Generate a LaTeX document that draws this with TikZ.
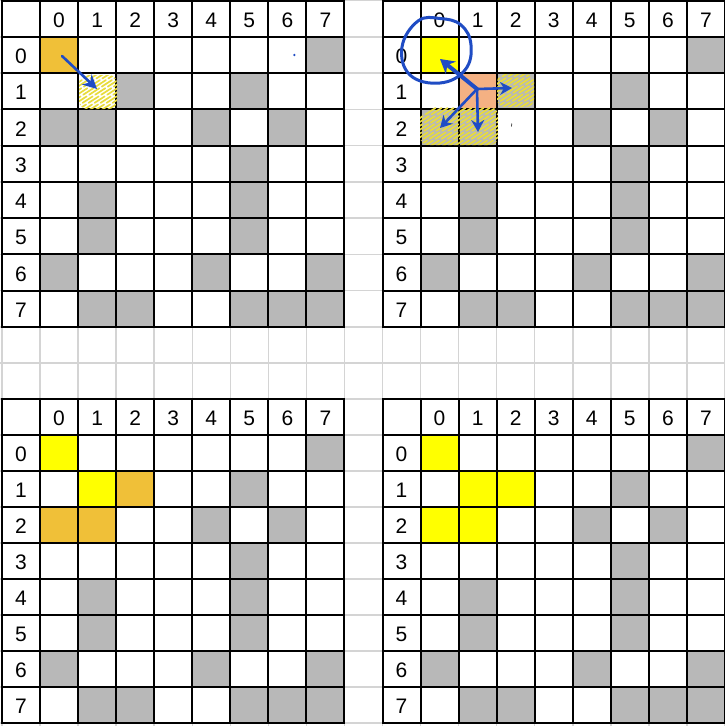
\documentclass[tikz,border=0pt]{standalone}
\usepackage{fontspec}
\setmainfont{Liberation Sans}
\usetikzlibrary{arrows.meta}
\definecolor{cellgrey}{HTML}{B8B8B8}
\definecolor{cellorange}{HTML}{F0C038}
\definecolor{cellyellow}{HTML}{FFFF00}
\definecolor{cellsalmon}{HTML}{F4B183}
\definecolor{ink}{HTML}{1F4CC4}
\definecolor{hatch}{HTML}{E8DC3C}
\definecolor{sheet}{HTML}{D4D4D4}
\tikzset{
  gridline/.style={black, line width=2pt, line cap=rect},
  sheetline/.style={sheet, line width=1.5pt},
  lbl/.style={font=\fontsize{21}{22}\selectfont, inner sep=0pt, anchor=center},
  inkline/.style={ink, line width=2.6pt, line cap=round, line join=round},
  hatchline/.style={hatch, line width=1.7pt, line cap=round, dash pattern=on 12pt off 3pt},
}
\newcommand\drawgrid[5]{%
  \begin{scope}[shift={(#2,#3)}]
    \foreach \r/\c in {0/7,1/2,1/5,2/0,2/1,2/4,2/6,3/5,4/1,4/5,5/1,5/5,6/0,6/4,6/7,7/1,7/2,7/5,7/6,7/7}
      \fill[cellgrey] ({(\c+1)*38.05},{(\r+1)*#4}) rectangle ++(38.05,#4);
    \foreach \r/\c/\cl in {#5}
      \fill[fill=\cl] ({(\c+1)*38.05},{(\r+1)*#4}) rectangle ++(38.05,#4);
    \foreach \i in {0,...,9} {
      \draw[gridline] ({\i*38.05},0) -- ({\i*38.05},{9*#4});
      \draw[gridline] (0,{\i*#4}) -- ({9*38.05},{\i*#4});
    }
    \foreach \i in {0,...,7} {
      \node[lbl] (#1c\i) at ({(\i+1.5)*38.05},{0.5*#4+1.5}) {\i};
      \node[lbl] (#1r\i) at ({0.5*38.05},{(\i+1.5)*#4+1.5}) {\i};
    }
  \end{scope}}
\newcommand\hatcharea[4]{%
  \begin{scope}
    \clip[rounded corners=8pt] (#1,#2) rectangle (#3,#4);
    \foreach \k in {0,6,...,162}
      \draw[hatchline] ({#1-45+\k},{#4+2}) -- ++(62,-40);
  \end{scope}}
\begin{document}
\begin{tikzpicture}[x=1pt,y=-1pt]
  \fill[white] (0,0) rectangle (725,726);
  \useasboundingbox (0,0) rectangle (725,726);
  % spreadsheet background
  \foreach \j in {0,...,19}
    \draw[sheetline] ({2+\j*38.05},0) -- ({2+\j*38.05},726);
  \foreach \yy in {0.5,36.75,73,109.25,145.5,181.75,218,254.25,290.5,326.75,362.9,399,435,471,507,543,579,615,651,687,723}
    \draw[sheetline] (0,\yy) -- (725,\yy);
  % four grids
  \drawgrid{tl}{2}{0.5}{36.25}{0/0/cellorange}
  \drawgrid{tr}{382.5}{0.5}{36.25}{0/0/cellyellow,1/1/cellsalmon}
  \drawgrid{bl}{2}{399}{36}{0/0/cellyellow,1/1/cellyellow,1/2/cellorange,2/0/cellorange,2/1/cellorange}
  \drawgrid{br}{382.5}{399}{36}{0/0/cellyellow,1/1/cellyellow,1/2/cellyellow,2/0/cellyellow,2/1/cellyellow}
  % hatching
  \hatcharea{79}{75}{117}{109}
  \hatcharea{497}{74}{534}{107}
  \hatcharea{420}{107}{498}{145}
  % top-left annotation
  \coordinate (tlA) at (62,56);
  \coordinate (tlB) at (97,89);
  \draw[inkline, -{Stealth[length=14pt,width=14pt]}] (tlA) -- (tlB);
  \fill[ink] (294.3,55) circle (1.3pt);
  % top-right annotation
  \draw[inkline, line width=3pt] plot[smooth cycle, tension=0.7] coordinates
    {(418,21) (440,18.5) (461,25) (471,45) (465,70) (440,83) (410,75) (402,47)};
  \coordinate (jn) at (477,89);
  \coordinate (trHome) at (440,59);
  \coordinate (trR) at (512,88);
  \coordinate (trD) at (478,132);
  \coordinate (trDL) at (440,128);
  \draw[inkline, line width=4pt, -{Stealth[length=14pt,width=16pt]}] (jn) -- (trHome);
  \draw[inkline, -{Stealth[length=12pt,width=13pt]}] (jn) -- (trR);
  \draw[inkline, -{Stealth[length=12pt,width=13pt]}] (jn) -- (trD);
  \draw[inkline, -{Stealth[length=12pt,width=13pt]}] (jn) -- (trDL);
  \draw[black!70, line width=0.8pt] (511.8,123.5) -- (511.4,126.5);
\end{tikzpicture}
\end{document}
